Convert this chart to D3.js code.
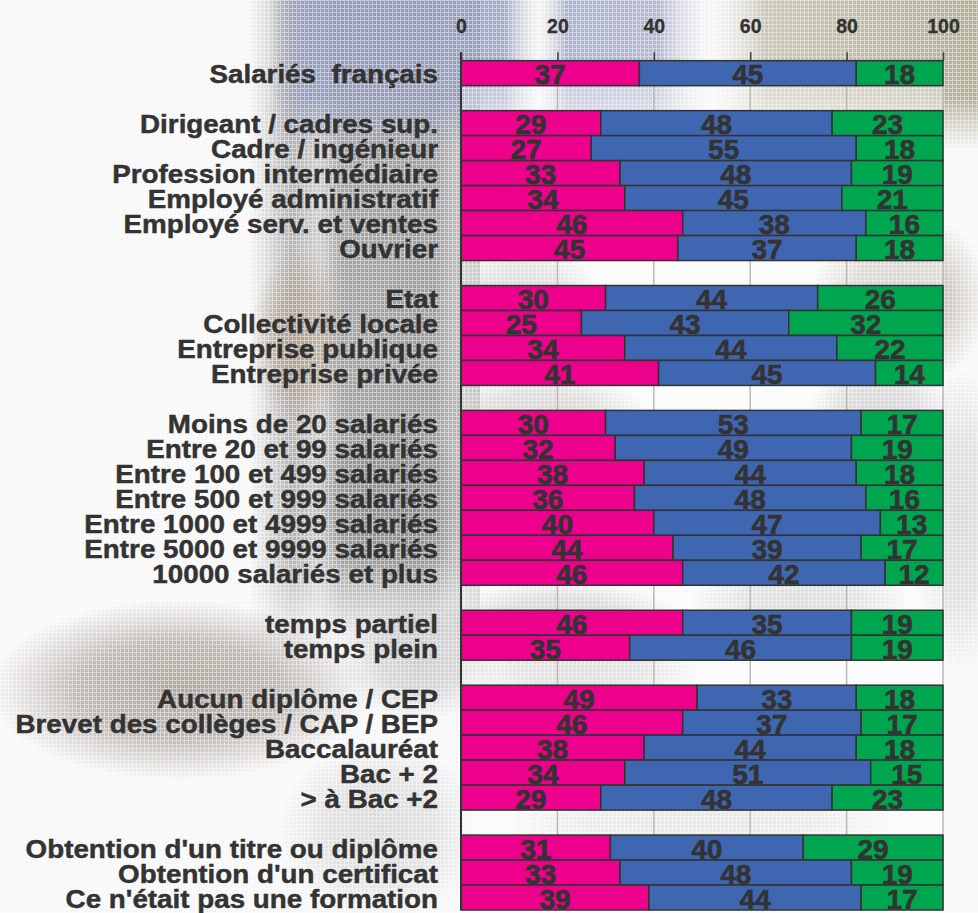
<!DOCTYPE html>
<html>
<head>
<meta charset="utf-8">
<script src="https://cdn.jsdelivr.net/npm/d3@7"></script>
<style>
  html, body { margin: 0; padding: 0; background: #f7f7f7; }
  svg { display: block; }
  text { font-family: "Liberation Sans", Arial, Helvetica, sans-serif; font-weight: bold; }
</style>
</head>
<body>
<svg id="chart" width="978" height="913"></svg>
<script>
// ---------------- DATA ----------------
const categories = [
  "Salariés  français",
  "Dirigeant / cadres sup.", "Cadre / ingénieur", "Profession intermédiaire",
  "Employé administratif", "Employé serv. et ventes", "Ouvrier",
  "Etat", "Collectivité locale", "Entreprise publique", "Entreprise privée",
  "Moins de 20 salariés", "Entre 20 et 99 salariés", "Entre 100 et 499 salariés",
  "Entre 500 et 999 salariés", "Entre 1000 et 4999 salariés", "Entre 5000 et 9999 salariés",
  "10000 salariés et plus",
  "temps partiel", "temps plein",
  "Aucun diplôme / CEP", "Brevet des collèges / CAP / BEP", "Baccalauréat", "Bac + 2", "> à Bac +2",
  "Obtention d'un titre ou diplôme", "Obtention d'un certificat", "Ce n'était pas une formation"
];
const groupSizes = [1, 6, 4, 7, 2, 5, 3];
const seriesPink  = [37, 29, 27, 33, 34, 46, 45, 30, 25, 34, 41, 30, 32, 38, 36, 40, 44, 46, 46, 35, 49, 46, 38, 34, 29, 31, 33, 39];
const seriesBlue  = [45, 48, 55, 48, 45, 38, 37, 44, 43, 44, 45, 53, 49, 44, 48, 47, 39, 42, 35, 46, 33, 37, 44, 51, 48, 40, 48, 44];
const seriesGreen = [18, 23, 18, 19, 21, 16, 18, 26, 32, 22, 14, 17, 19, 18, 16, 13, 17, 12, 19, 19, 18, 17, 18, 15, 23, 29, 19, 17];
const tickValues = [0, 20, 40, 60, 80, 100];
const seriesColors = ["#ec008c", "#3f67b1", "#00a54f"];

// ---------------- LAYOUT ----------------
const W = 978, H = 913;
const xLeft = 461, xRight = 943;
const yTop = 60.7, yBottom = 910;
const svg = d3.select("#chart");
const defs = svg.append("defs");

function linGrad(id, vertical, stops) {
  const g = defs.append("linearGradient").attr("id", id)
    .attr("x1", 0).attr("y1", 0).attr("x2", vertical ? 0 : 1).attr("y2", vertical ? 1 : 0);
  stops.forEach(s => g.append("stop").attr("offset", s[0]).attr("stop-color", s[1]).attr("stop-opacity", s[2]));
}
// side band behind the labels
linGrad("bandH", false, [[0, "#9a9a9a", 0], [0.18, "#9c9c9c", 0.75], [0.3, "#b0b0b0", 0.6], [0.4, "#959595", 0.85], [0.8, "#939393", 0.9], [0.9, "#a8a8a8", 0.75], [1, "#9a9a9a", 0.85]]);
linGrad("fadeV", true, [[0, "#fff", 1], [0.86, "#fff", 1], [1, "#fff", 0]]);
// top strip
linGrad("topH", false, [[0, "#8f98b6", 0], [0.05, "#8f98b6", 0.9], [0.33, "#939cba", 0.85], [0.38, "#f2f2f2", 0.5], [0.42, "#9aa2bf", 0.8], [0.55, "#9ea5c0", 0.75], [0.62, "#f5f5f5", 0.3], [0.7, "#b3b09a", 0.7], [1, "#a9a68d", 0.9]]);
linGrad("fadeTop", true, [[0, "#fff", 1], [0.65, "#fff", 1], [1, "#fff", 0]]);
const m1 = defs.append("mask").attr("id", "mBand");
m1.append("rect").attr("x", 250).attr("y", 0).attr("width", 230).attr("height", 650).attr("fill", "url(#fadeV)");
const m2 = defs.append("mask").attr("id", "mTop");
m2.append("rect").attr("x", 270).attr("y", 0).attr("width", 708).attr("height", 150).attr("fill", "url(#fadeTop)");

// soft blobs
const blobData = [
  {cx: 300, cy: 340, rx: 50,  ry: 90,  c: "#a8937c", o: 0.6},
  {cx: 390, cy: 500, rx: 80,  ry: 90,  c: "#7f7f7f", o: 0.6},
  {cx: 180, cy: 690, rx: 190, ry: 90,  c: "#a09890", o: 0.85},
  {cx: 420, cy: 660, rx: 80,  ry: 60,  c: "#b0b0b0", o: 0.6},
  {cx: 380, cy: 830, rx: 100, ry: 90,  c: "#c8c8c8", o: 0.6},
  {cx: 520, cy: 300, rx: 80,  ry: 60,  c: "#b4b4b4", o: 0.7},
  {cx: 900, cy: 300, rx: 90,  ry: 90,  c: "#b2aa9e", o: 0.8},
  {cx: 960, cy: 520, rx: 50,  ry: 150, c: "#cdcdcd", o: 0.7},
  {cx: 540, cy: 420, rx: 110, ry: 50,  c: "#a5a5a5", o: 0.7},
  {cx: 880, cy: 410, rx: 70,  ry: 50,  c: "#a5a5a5", o: 0.7},
  {cx: 560, cy: 620, rx: 120, ry: 40,  c: "#a0a0a0", o: 0.7},
  {cx: 800, cy: 600, rx: 110, ry: 40,  c: "#acacac", o: 0.6},
  {cx: 580, cy: 670, rx: 120, ry: 30,  c: "#b0b0b0", o: 0.6},
  {cx: 700, cy: 820, rx: 200, ry: 40,  c: "#c6c6c6", o: 0.6}
];
blobData.forEach((d, i) => {
  const g = defs.append("radialGradient").attr("id", "rg" + i);
  g.append("stop").attr("offset", "0%").attr("stop-color", d.c).attr("stop-opacity", d.o);
  g.append("stop").attr("offset", "55%").attr("stop-color", d.c).attr("stop-opacity", d.o * 0.75);
  g.append("stop").attr("offset", "100%").attr("stop-color", d.c).attr("stop-opacity", 0);
});
const pat = defs.append("pattern").attr("id", "grid")
  .attr("width", 4).attr("height", 4).attr("patternUnits", "userSpaceOnUse");
pat.append("rect").attr("width", 4).attr("height", 1).attr("fill", "#fff");
pat.append("rect").attr("width", 1).attr("height", 4).attr("fill", "#fff");

const bg = svg.append("g");
bg.append("rect").attr("width", W).attr("height", H).attr("fill", "#f7f7f7");
bg.append("rect").attr("x", 250).attr("y", 0).attr("width", 230).attr("height", 650)
  .attr("fill", "url(#bandH)").attr("mask", "url(#mBand)");
bg.append("rect").attr("x", 270).attr("y", 0).attr("width", 708).attr("height", 150)
  .attr("fill", "url(#topH)").attr("mask", "url(#mTop)");
bg.selectAll("ellipse").data(blobData).join("ellipse")
  .attr("cx", d => d.cx).attr("cy", d => d.cy)
  .attr("rx", d => d.rx).attr("ry", d => d.ry)
  .attr("fill", (d, i) => `url(#rg${i})`);
bg.append("rect").attr("width", W).attr("height", H).attr("fill", "url(#grid)").attr("opacity", 0.45);

// slots with gaps between groups
const slots = [];
let idx = 0;
groupSizes.forEach((n, g) => {
  if (g > 0) slots.push({gap: true, key: "gap" + g});
  for (let i = 0; i < n; i++, idx++) slots.push({gap: false, key: "c" + idx, i: idx});
});

const x = d3.scaleLinear().domain([0, 100]).range([xLeft, xRight]);
const y = d3.scaleBand().domain(slots.map(s => s.key)).range([yTop, yBottom]).padding(0);

// plot background (semi-transparent)
svg.append("rect").attr("x", xLeft).attr("y", yTop).attr("width", xRight - xLeft)
  .attr("height", yBottom - yTop).attr("fill", "#ffffff").attr("opacity", 0.35);

// gridlines
svg.append("g").selectAll("line").data(tickValues.slice(1)).join("line")
  .attr("x1", d => x(d)).attr("x2", d => x(d))
  .attr("y1", yTop).attr("y2", yBottom)
  .attr("stroke", "#c3b6b6").attr("stroke-width", 1.5);

// top axis
const axis = d3.axisTop(x).tickValues(tickValues).tickSize(8.5).tickPadding(19).tickFormat(d3.format("d"));
const gAxis = svg.append("g").attr("transform", `translate(0,${yTop})`).call(axis);
gAxis.select(".domain").remove();
gAxis.selectAll(".tick line").attr("stroke", "#444").attr("stroke-width", 1.6);
gAxis.selectAll(".tick text").attr("fill", "#333").attr("font-size", 19.5)
  .attr("font-family", "'Liberation Sans', Arial, sans-serif").attr("font-weight", "bold")
  .attr("stroke", "#333").attr("stroke-width", 0.3);

// stacked bars
const rows = categories.map((c, i) => ({cat: c, i, vals: [seriesPink[i], seriesBlue[i], seriesGreen[i]]}));
const segs = [];
rows.forEach(r => {
  let acc = 0;
  r.vals.forEach((v, k) => { segs.push({i: r.i, k, v, x0: acc, x1: acc + v}); acc += v; });
});
svg.append("g").selectAll("rect").data(segs).join("rect")
  .attr("x", d => x(d.x0)).attr("width", d => x(d.x1) - x(d.x0))
  .attr("y", d => y("c" + d.i)).attr("height", y.bandwidth())
  .attr("fill", d => seriesColors[d.k])
  .attr("stroke", "#333").attr("stroke-width", 1.5);

// left axis line
svg.append("line").attr("x1", xLeft).attr("x2", xLeft).attr("y1", yTop - 8.5).attr("y2", yBottom)
  .attr("stroke", "#333").attr("stroke-width", 2);

// value labels
svg.append("g").selectAll("text").data(segs).join("text")
  .attr("x", d => x((d.x0 + d.x1) / 2))
  .attr("y", d => y("c" + d.i) + y.bandwidth() - 1.5)
  .attr("text-anchor", "middle")
  .attr("font-size", 28).attr("fill", "#333")
  .attr("stroke", "#333").attr("stroke-width", 0.6)
  .text(d => d.v);

// category labels (slightly stretched horizontally as in the reference)
svg.append("g").selectAll("text").data(rows).join("text")
  .attr("transform", d => `translate(438,${y("c" + d.i) + y.bandwidth() - 2.4}) scale(1.09,1)`)
  .attr("text-anchor", "end")
  .attr("font-size", 25.5)
  .attr("fill", "#333")
  .attr("stroke", "#333").attr("stroke-width", 0.45)
  .style("white-space", "pre")
  .text(d => d.cat);
</script>
</body>
</html>
